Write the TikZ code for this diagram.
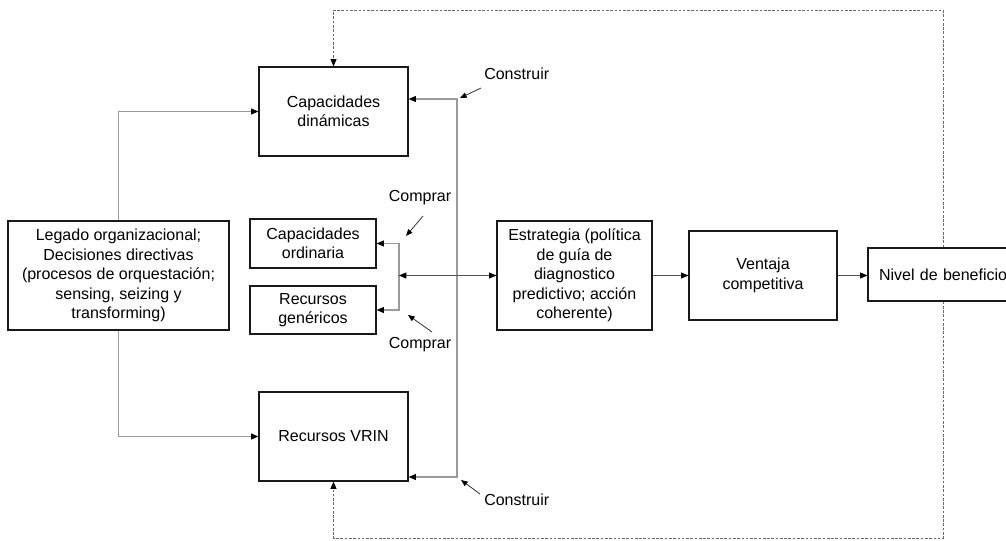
\documentclass[tikz,border=0pt]{standalone}
\usepackage{fontspec}
\setmainfont{Liberation Sans}
\usetikzlibrary{arrows.meta,calc}
\definecolor{conn}{HTML}{9A9A9A}
\definecolor{darkconn}{HTML}{555555}
\definecolor{dashc}{HTML}{6A6A6A}
\begin{document}
\begin{tikzpicture}[x=0.75pt,y=-0.75pt,
  box/.style={draw=black!90,line width=0.9pt,rectangle,inner sep=0pt,align=center,
    font=\fontsize{12}{14.6}\selectfont},
  tip/.style={-{Triangle[length=5.5pt,width=4.5pt,color=black]}},
  tips/.style={{Triangle[length=5.5pt,width=4.5pt,color=black]}-{Triangle[length=5.5pt,width=4.5pt,color=black]}},
  link/.style={draw=conn,line width=0.8pt},
  feed/.style={draw=dashc,line width=0.6pt,dash pattern=on 2pt off 1.2pt},
  lbl/.style={font=\fontsize{12}{14.6}\selectfont,inner sep=0pt},
  pointer/.style={draw=black!80,line width=0.6pt,-{Triangle[length=5pt,width=4pt,color=black]}}]
\useasboundingbox (0,0) rectangle (1006,540);

% boxes
\node[box,minimum width=111.75pt,minimum height=66.75pt] (capdin) at (333.5,111.5) {Capacidades\\dinámicas};
\node[box,minimum width=165.75pt,minimum height=81.75pt] (legado) at (118.5,275.5)
  {Legado organizacional;\\Decisiones directivas\\(procesos de orquestación;\\sensing, seizing y\\transforming)};
\node[box,minimum width=111.75pt,minimum height=66.75pt] (vrin) at (333.5,436.5) {Recursos VRIN};
\node[box,minimum width=94.5pt,minimum height=36.75pt] (capord) at (313,243.5) {Capacidades\\ordinaria};
\node[box,minimum width=94.5pt,minimum height=36pt] (recgen) at (313,310) {Recursos\\genéricos};
\node[box,minimum width=116.25pt,minimum height=81.75pt] (estr) at (574.5,275.5)
  {Estrategia (política\\de guía de\\diagnostico\\predictivo; acción\\coherente)};
\node[box,minimum width=111pt,minimum height=66.75pt] (vent) at (763,275.5) {Ventaja\\competitiva};
% profit box runs past the right edge of the page
\node[box,align=left,text width=105pt,inner xsep=8.25pt,minimum height=39.75pt] (nivel) at (949,274.5) {Nivel de beneficio};

% labels
\node[lbl,anchor=west] (cons1) at (484,74) {Construir};
\node[lbl,anchor=west] (cons2) at (484,500) {Construir};
\node[lbl] (comp1) at (420,198) {Comprar};
\node[lbl] (comp2) at (420,345) {Comprar};

% helper points
\coordinate (ct) at (457,99);
\coordinate (cb) at (457,477);
\coordinate (bk) at (399,275.5);
\coordinate (topy) at (0,10);
\coordinate (boty) at (0,538);
\coordinate (fbx) at (943,0);
\coordinate (p1s) at (481,88);   \coordinate (p1e) at (460,98);
\coordinate (p2s) at (480,494);  \coordinate (p2e) at (461,480);
\coordinate (p3s) at (423,216);  \coordinate (p3e) at (406,236);
\coordinate (p4s) at (432,332);  \coordinate (p4e) at (408,315);

% legacy feeds both dynamic capabilities and VRIN resources
\draw[link,tip] (legado.north) |- (capdin.west);
\draw[link,tip] (legado.south) |- (vrin.west);

% build line
\draw[link,tips] (capdin.east |- ct) -- (ct) -- (cb) -- (vrin.east |- cb);

% buy bracket
\draw[link,tips] (capord.east) -| (bk) |- (recgen.east);
\draw[draw=darkconn,line width=0.7pt,tips] (bk) -- (estr.west);

% main chain
\draw[draw=darkconn,line width=0.7pt,tip] (estr.east) -- (vent.west);
\draw[draw=darkconn,line width=0.7pt,tip] (vent.east) -- (vent.east -| nivel.west);

% feedback loops
\draw[feed,tip] (fbx |- nivel.north) |- (capdin.north |- topy) -- (capdin.north);
\draw[feed,tip] (fbx |- nivel.south) |- (vrin.south |- boty) -- (vrin.south);

% label pointers
\draw[pointer] (p1s) -- (p1e);
\draw[pointer] (p2s) -- (p2e);
\draw[pointer] (p3s) -- (p3e);
\draw[pointer] (p4s) -- (p4e);
\end{tikzpicture}
\end{document}
